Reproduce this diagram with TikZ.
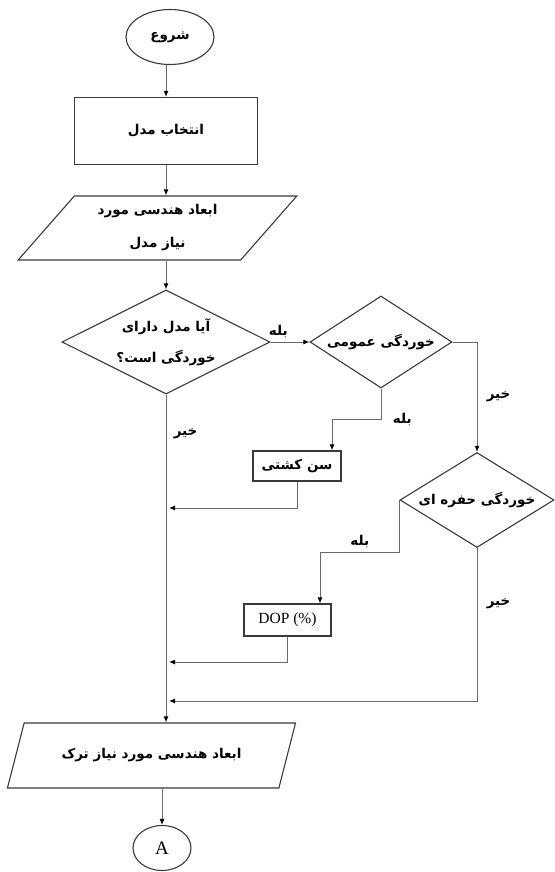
\documentclass[tikz,border=0pt]{standalone}
\usepackage{fontspec}
\setmainfont{Liberation Serif}
\newfontfamily\farsifont[Script=Arabic]{DejaVu Sans}
\TeXXeTstate=1
\usepackage{tikz}
\usetikzlibrary{arrows.meta,shapes.geometric,calc}
\definecolor{ShapeGray}{HTML}{3A3A3A}
\definecolor{LinkGray}{HTML}{6A6A6A}
\newcommand{\fatxt}[1]{{\farsifont\bfseries\beginR #1\endR}}

\begin{document}
\begin{tikzpicture}[x=1pt, y=-1pt, >={Latex[length=6pt,width=5pt,color=black]},
    every node/.style={font=\fontsize{13.5}{16}\selectfont},
    terminal/.style={ellipse,draw=ShapeGray,line width=1.1pt,inner sep=0pt},
    process/.style={rectangle,draw=ShapeGray,line width=1.1pt,inner sep=0pt},
    io/.style={trapezium,trapezium left angle=49,trapezium right angle=131,
      trapezium stretches=true,draw=ShapeGray,line width=1.1pt,inner sep=0pt,align=center},
    decision/.style={diamond,aspect=1.6,draw=ShapeGray,line width=1.1pt,inner sep=0pt,align=center},
    link/.style={draw=LinkGray,line width=1pt}]
    \useasboundingbox (0,0) rectangle (554,872);
    \node[terminal,minimum width=88pt,minimum height=55pt] (start) at (170,37) {\fatxt{شروع}};
    \node[process,minimum width=183pt,minimum height=67pt] (select) at (166,131) {\fatxt{انتخاب مدل}};
    \node[io,minimum width=279pt,minimum height=64pt] (geo) at (157.5,228)
      {\fatxt{ابعاد هندسی مورد}\\[17pt]\fatxt{نیاز مدل}};
    \node[decision,aspect=2,minimum width=208pt,minimum height=104pt] (ask) at (166,342)
      {\fatxt{آیا مدل دارای}\\[15pt]\fatxt{خوردگی است؟}};
    \node[decision,minimum width=142pt,minimum height=92pt] (general) at (381,342) {\fatxt{خوردگی عمومی}};
    \node[decision,minimum width=154pt,minimum height=95pt] (pit) at (477,500) {\fatxt{خوردگی حفره ای}};
    \node[process,minimum width=88pt,minimum height=30pt] (age) at (297,466) {\fatxt{سن کشتی}};
    \node[process,minimum width=87pt,minimum height=32pt] (dop) at (287.5,620) {\fontsize{15.5}{18}\selectfont DOP (\%)};
    \node[io,minimum width=289pt,minimum height=65pt] (crack) at (151.5,755.5) {\fatxt{ابعاد هندسی مورد نیاز ترک}};
    \node[terminal,minimum width=58pt,minimum height=45pt] (endA) at (162,848) {\fontsize{19}{22}\selectfont A};
    \coordinate (join1) at (169,508);
    \coordinate (join2) at (169,662);
    \coordinate (join3) at (169,701);
    \draw[link,->] (start.south -| select.north) -- (select.north);
    \draw[link,->] (select.south) -- (select.south |- geo.north);
    \draw[link,->] (geo.south -| ask.north) -- (ask.north);
    \draw[link,->] (ask.east) -- node[above,pos=0.2] {\fatxt{بله}} (general.west);
    \draw[link,->] (general.east) -| node[pos=0.75,right,xshift=6pt] {\fatxt{خیر}} (pit.north);
    \draw[link,->] (general.south) -- ++(0,31) node[right,xshift=8pt] {\fatxt{بله}} -| ([xshift=35pt]age.north);
    \draw[link,->] (age.south) |- (join1);
    \draw[link,->] (pit.west) -- ++(0,52) -| node[pos=0.25,above] {\fatxt{بله}} ([xshift=32.5pt]dop.north);
    \draw[link,->] (dop.south) |- (join2);
    \draw[link,->] (pit.south) |- node[pos=0.18,right,xshift=6pt] {\fatxt{خیر}} (join3);
    \draw[link,->] (ask.south) -- node[pos=0.12,right,xshift=4pt] {\fatxt{خیر}} (ask.south |- crack.north);
    \draw[link,->] (crack.south -| endA.north) -- (endA.north);
  \end{tikzpicture}
\end{document}
